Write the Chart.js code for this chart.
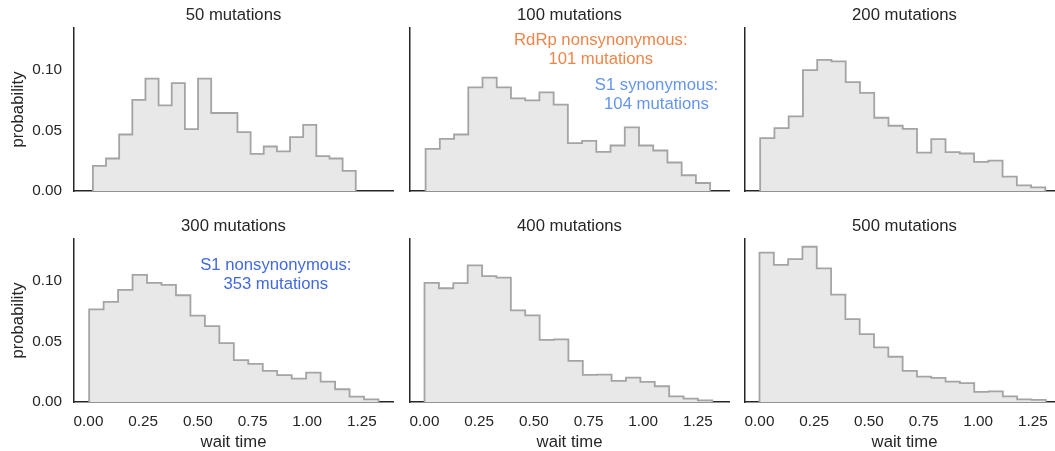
<!DOCTYPE html>
<html><head><meta charset="utf-8">
<script src="https://cdn.jsdelivr.net/npm/chart.js@4.4.0/dist/chart.umd.min.js"></script>
<style>
html,body{margin:0;padding:0;background:#fff;overflow:hidden;width:1055px;height:451px;}
#wrap{position:relative;width:1055px;height:451px;overflow:hidden;background:#fff;}
canvas{position:absolute;}
</style></head><body><div id="wrap"></div>
<script>
// ---------- data ----------
const panelTitles = ['50 mutations', '100 mutations', '200 mutations', '300 mutations', '400 mutations', '500 mutations'];
const xLabel = 'wait time';
const yLabel = 'probability';
const xTickValues = [0, 0.25, 0.5, 0.75, 1.0, 1.25];
const xTickLabels = ['0.00', '0.25', '0.50', '0.75', '1.00', '1.25'];
const yTickValues = [0, 0.05, 0.10];
const yTickLabels = ['0.00', '0.05', '0.10'];

// histogram range (wait time of first bin's left edge / last bin's right edge)
const binStart = [0.020, 0.005, 0.003, 0.003, 0.000, 0.000];
const binEnd   = [1.222, 1.306, 1.307, 1.326, 1.316, 1.309];

const prob50  = [0.0207, 0.0268, 0.0466, 0.0751, 0.0927, 0.0706, 0.0889, 0.0510, 0.0927, 0.0643,
                 0.0643, 0.0486, 0.0306, 0.0367, 0.0326, 0.0444, 0.0546, 0.0287, 0.0268, 0.0166];
const prob100 = [0.0348, 0.0430, 0.0466, 0.0855, 0.0935, 0.0855, 0.0764, 0.0748, 0.0814, 0.0712,
                 0.0395, 0.0414, 0.0323, 0.0375, 0.0524, 0.0375, 0.0334, 0.0235, 0.0130, 0.0066];
const prob200 = [0.0436, 0.0519, 0.0615, 0.0996, 0.1082, 0.1068, 0.0897, 0.0809, 0.0604, 0.0538,
                 0.0513, 0.0317, 0.0428, 0.0320, 0.0309, 0.0240, 0.0251, 0.0119, 0.0047, 0.0030];
const prob300 = [0.0764, 0.0825, 0.0924, 0.1049, 0.0982, 0.0966, 0.0880, 0.0712, 0.0626, 0.0486,
                 0.0345, 0.0315, 0.0257, 0.0221, 0.0193, 0.0243, 0.0168, 0.0105, 0.0044, 0.0022];
const prob400 = [0.0982, 0.0938, 0.0980, 0.1126, 0.1038, 0.1026, 0.0756, 0.0715, 0.0513, 0.0516,
                 0.0339, 0.0224, 0.0226, 0.0174, 0.0201, 0.0166, 0.0130, 0.0047, 0.0028, 0.0014];
const prob500 = [0.1231, 0.1131, 0.1178, 0.1280, 0.1101, 0.0886, 0.0684, 0.0560, 0.0450, 0.0373,
                 0.0257, 0.0210, 0.0199, 0.0168, 0.0155, 0.0083, 0.0088, 0.0047, 0.0022, 0.0017];
const panelProbs = [prob50, prob100, prob200, prob300, prob400, prob500];

const annotationTexts = [
  ['RdRp nonsynonymous:', '101 mutations'],
  ['S1 synonymous:', '104 mutations'],
  ['S1 nonsynonymous:', '353 mutations']
];

// ---------- layout / style ----------
const FONT = '"Liberation Sans", Arial, Helvetica, sans-serif';
const TEXT = '#262626';
const PL = [74, 410, 745];   // plot-area left per column
const PT = [28, 239];        // plot-area top per row
const PW = 319, PH = 163;    // plot-area size
const YW = 74, XH = 52, TOPPAD = 28, PR = 6;
const annotationLayout = [
  {panel: 1, dx: 190.8, dy: [12, 31.7], color: '#ee854a'},
  {panel: 1, dx: 246.5, dy: [57.5, 76.5], color: '#6495ed'},
  {panel: 3, dx: 201.8, dy: [26, 45.2], color: '#4169e1'}
];

// matplotlib-like autoscale with 5% margins (shared axes)
const allStart = Math.min(...binStart), allEnd = Math.max(...binEnd);
const xMargin = 0.05 * (allEnd - allStart);
const xMin = allStart - xMargin, xMax = allEnd + xMargin;
const yMax = 1.05 * Math.max(...panelProbs.map(p => Math.max(...p)));

function stepPoints(start, end, probs) {
  const n = probs.length, w = (end - start) / n;
  const pts = [{x: start, y: 0}];
  probs.forEach((p, k) => pts.push({x: start + k * w, y: p}));
  pts.push({x: end, y: probs[n - 1]});
  pts.push({x: end, y: 0});
  return pts;
}

const textPlugin = {
  id: 'panelText',
  afterDraw(chart, args, opts) {
    const ctx = chart.ctx, a = chart.chartArea;
    ctx.save();
    ctx.textAlign = 'center';
    ctx.textBaseline = 'middle';
    ctx.fillStyle = TEXT;
    ctx.font = '16.7px ' + FONT;
    ctx.fillText(opts.title, (a.left + a.right) / 2, a.top - 13);
    if (opts.showX) ctx.fillText(xLabel, (a.left + a.right) / 2, a.bottom + 40.5);
    if (opts.showY) {
      ctx.save();
      ctx.translate(a.left - 55.7, (a.top + a.bottom) / 2);
      ctx.rotate(-Math.PI / 2);
      ctx.fillText(yLabel, 0, 0);
      ctx.restore();
    }
    (opts.notes || []).forEach(n => {
      ctx.fillStyle = n.color;
      n.lines.forEach((line, k) => ctx.fillText(line, a.left + n.dx, a.top + n.dy[k]));
    });
    ctx.restore();
  }
};

const wrap = document.getElementById('wrap');
panelProbs.forEach((probs, i) => {
  const col = i % 3, row = Math.floor(i / 3);
  const cv = document.createElement('canvas');
  const cw = YW + PW + PR, ch = TOPPAD + PH + XH;
  cv.width = cw; cv.height = ch;
  cv.style.width = cw + 'px'; cv.style.height = ch + 'px';
  cv.style.left = (PL[col] - YW) + 'px';
  cv.style.top = (PT[row] - TOPPAD) + 'px';
  wrap.appendChild(cv);

  const notes = annotationLayout
    .map((l, k) => ({...l, lines: annotationTexts[k]}))
    .filter(n => n.panel === i);

  new Chart(cv.getContext('2d'), {
    type: 'line',
    data: {
      datasets: [{
        data: stepPoints(binStart[i], binEnd[i], probs),
        stepped: true,
        fill: 'origin',
        backgroundColor: '#e8e8e8',
        borderColor: '#a4a4a4',
        borderWidth: 1.8,
        pointRadius: 0,
        tension: 0
      }]
    },
    options: {
      responsive: false,
      animation: false,
      devicePixelRatio: 1,
      layout: {padding: {top: TOPPAD, right: PR, left: 0, bottom: 0}},
      plugins: {
        legend: {display: false},
        tooltip: {enabled: false},
        panelText: {title: panelTitles[i], showX: row === 1, showY: col === 0, notes: notes}
      },
      scales: {
        x: {
          type: 'linear', min: xMin, max: xMax, z: 1,
          grid: {display: false, drawTicks: false},
          border: {display: true, color: TEXT, width: 1.5},
          ticks: {
            display: row === 1, padding: 11, color: TEXT, autoSkip: false, maxRotation: 0,
            includeBounds: false, font: {family: FONT, size: 15.3},
            callback: v => { const k = xTickValues.indexOf(v); return k >= 0 ? xTickLabels[k] : ''; }
          },
          afterBuildTicks: s => { s.ticks = xTickValues.map(v => ({value: v})); },
          afterFit: s => { s.height = XH; }
        },
        y: {
          type: 'linear', min: 0, max: yMax, z: 1,
          grid: {display: false, drawTicks: false},
          border: {display: true, color: TEXT, width: 1.5},
          ticks: {
            display: col === 0, padding: 12, color: TEXT, autoSkip: false,
            includeBounds: false, font: {family: FONT, size: 15.3},
            callback: v => { const k = yTickValues.indexOf(v); return k >= 0 ? yTickLabels[k] : ''; }
          },
          afterBuildTicks: s => { s.ticks = yTickValues.map(v => ({value: v})); },
          afterFit: s => { s.width = YW; }
        }
      }
    },
    plugins: [textPlugin]
  });
});
</script>
</body></html>
